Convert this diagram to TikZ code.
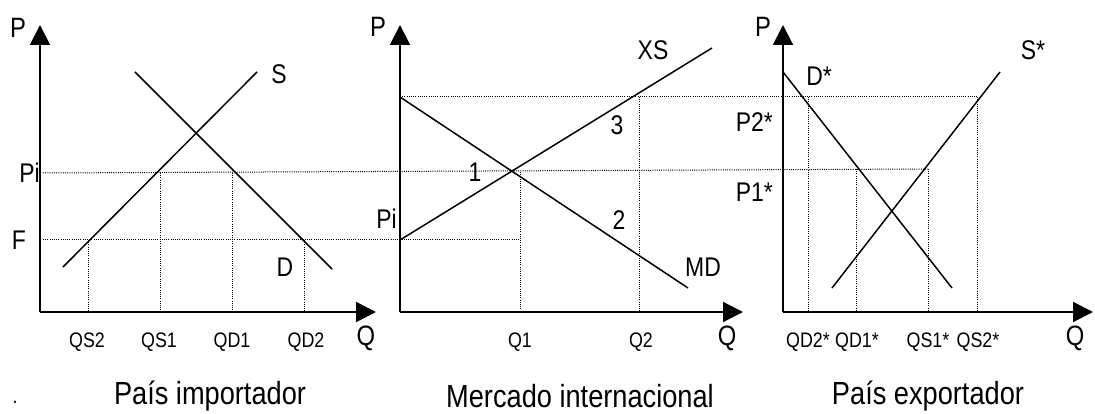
\documentclass[tikz,border=0pt]{standalone}
\usepackage{fontspec}
\setmainfont[FakeStretch=0.85]{Liberation Sans}
\usetikzlibrary{arrows.meta}
\begin{document}
\begin{tikzpicture}[x=1pt,y=-1pt,
  axis/.style={line width=2pt,-{Triangle[length=20pt,width=20pt]}},
  curve/.style={line width=1.5pt},
  guide/.style={line width=1pt,dash pattern=on 1pt off 1.2pt},
  small/.style={font=\fontsize{21}{24}\selectfont,inner sep=0pt},
  lbl/.style={font=\fontsize{27}{31}\selectfont,inner sep=0pt},
  axl/.style={font=\fontsize{28}{32}\selectfont,inner sep=0pt},
  captxt/.style={font=\fontsize{32}{36}\selectfont,inner sep=0pt}]
\useasboundingbox (0,0) rectangle (1095,414);
% origins and ends
\coordinate (O1) at (40,312);  \coordinate (Y1) at (40,25);  \coordinate (X1) at (376,312);
\coordinate (O2) at (400,312); \coordinate (Y2) at (400,25); \coordinate (X2) at (743,312);
\coordinate (O3) at (783,312); \coordinate (Y3) at (783,25); \coordinate (X3) at (1093,312);
% guides
\coordinate (g1a) at (43,173);  \coordinate (g1b) at (928,169);
\coordinate (g2a) at (43,240);  \coordinate (g2b) at (520,240);
\coordinate (g3a) at (400,97);  \coordinate (g3b) at (977,97);
\draw[guide] (g1a) -- (g1b);
\draw[guide] (g2a) -- (g2b);
\draw[guide] (g3a) -- (g3b);
\foreach \x/\y in {88/240,160/173,232/173,304/240,520/172,639/97,808/97,856/169,928/169,977/97}
  \draw[guide] (\x,\y) -- (\x,312);
% axes
\draw[axis] (O1) -- (Y1); \draw[axis] (O1) -- (X1);
\draw[axis] (O2) -- (Y2); \draw[axis] (O2) -- (X2);
\draw[axis] (O3) -- (Y3); \draw[axis] (O3) -- (X3);
% curves
\coordinate (Sa) at (63,267);   \coordinate (Sb) at (257,72);
\coordinate (Da) at (135,72);   \coordinate (Db) at (332,269);
\coordinate (XSa) at (400,240); \coordinate (XSb) at (712,48);
\coordinate (MDa) at (400,97);  \coordinate (MDb) at (688,288);
\coordinate (Dsa) at (783,72);  \coordinate (Dsb) at (952,288);
\coordinate (Ssa) at (832,288); \coordinate (Ssb) at (1000,72);
\draw[curve] (Sa) -- (Sb);
\draw[curve] (Da) -- (Db);
\draw[curve] (XSa) -- (XSb);
\draw[curve] (MDa) -- (MDb);
\draw[curve] (Dsa) -- (Dsb);
\draw[curve] (Ssa) -- (Ssb);
% axis labels
\node[axl] (P1) at (18,28) {P};
\node[axl] (P2) at (378,27) {P};
\node[axl] (P3) at (763,27) {P};
\node[axl] (Q1l) at (366,338) {Q};
\node[axl] (Q2l) at (727,338) {Q};
\node[axl] (Q3l) at (1075,338) {Q};
% curve labels
\node[lbl] (Sl) at (279,74) {S};
\node[lbl] (Dl) at (285,267) {D};
\node[lbl,anchor=east] (Pil) at (40,173) {Pi};
\node[lbl] (Fl) at (19,240) {F};
\node[lbl] (XSl) at (653,50) {XS};
\node[lbl] (n3) at (617,125) {3};
\node[lbl] (n1) at (475,172) {1};
\node[lbl] (n2) at (619,220) {2};
\node[lbl,anchor=east] (Pim) at (397,219) {Pi};
\node[lbl] (MDl) at (703,267) {MD};
\node[lbl] (Dsl) at (819,76) {D*};
\node[lbl] (Ssl) at (1033,50) {S*};
\node[lbl,anchor=east] (P2s) at (773,122) {P2*};
\node[lbl,anchor=east] (P1s) at (773,192) {P1*};
% quantity labels
\node[small] (qs2) at (87,342) {QS2};
\node[small] (qs1) at (159,342) {QS1};
\node[small] (qd1) at (232,342) {QD1};
\node[small] (qd2) at (306,342) {QD2};
\node[small] (q1) at (520,342) {Q1};
\node[small] (q2) at (641,342) {Q2};
\node[small] (qd2s) at (808,342) {QD2*};
\node[small] (qd1s) at (857,342) {QD1*};
\node[small] (qs1s) at (928,342) {QS1*};
\node[small] (qs2s) at (978,342) {QS2*};
% captions
\node[captxt] (c1) at (210,396) {País importador};
\node[captxt] (c2) at (580,396) {Mercado internacional};
\node[captxt] (c3) at (928,396) {País exportador};
\node[small] (dot) at (15,402) {.};
\end{tikzpicture}
\end{document}
